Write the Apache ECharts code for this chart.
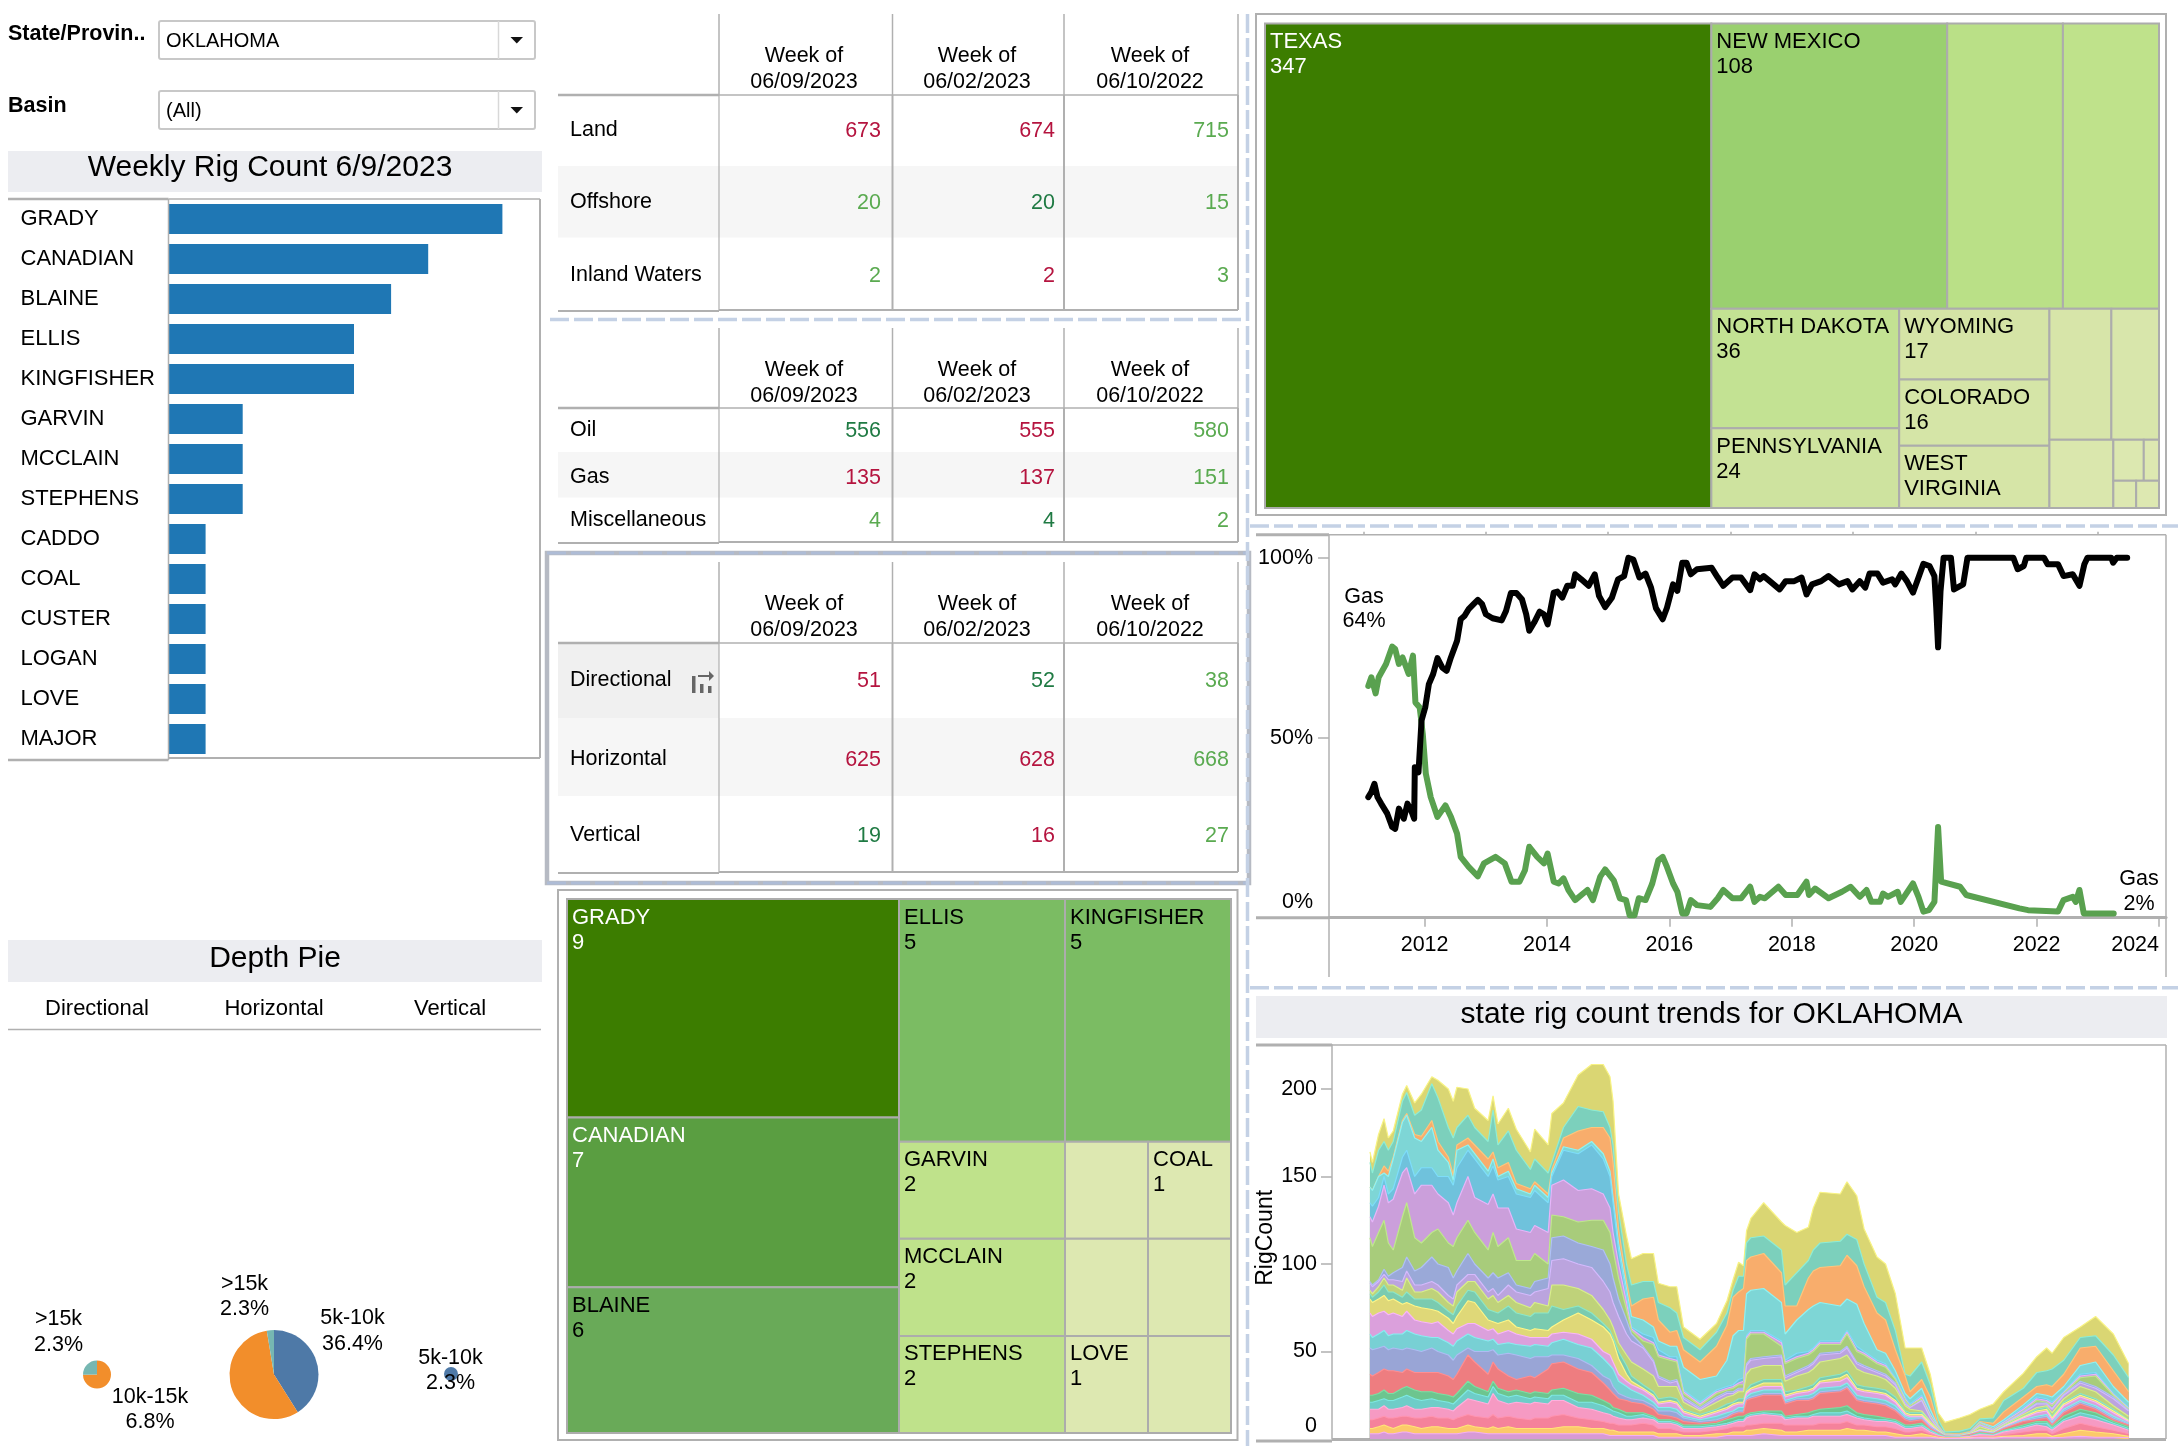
<!DOCTYPE html>
<html><head><meta charset="utf-8">
<style>html,body{margin:0;padding:0;background:#fff}#c{width:2178px;height:1446px}</style>
<script src="https://cdn.jsdelivr.net/npm/echarts@6/dist/echarts.min.js"></script>
</head><body><div id="c"></div>
<script>
// ---------- DATA ----------
const barCounties = ['GRADY','CANADIAN','BLAINE','ELLIS','KINGFISHER','GARVIN','MCCLAIN','STEPHENS','CADDO','COAL','CUSTER','LOGAN','LOVE','MAJOR'];
const barCounts = [9,7,6,5,5,2,2,2,1,1,1,1,1,1];

const pieDirectional = [['10k-15k',6.8],['>15k',2.3]];
const pieHorizontal = [['5k-10k',36.4],['10k-15k',50],['>15k',2.3]];
const pieVertical = [['5k-10k',2.3]];
const pieTitles = ['Directional','Horizontal','Vertical'];

const weekHeaders = ['06/09/2023','06/02/2023','06/10/2022'];
const locationRows = ['Land','Offshore','Inland Waters'];
const locationValues = [[673,674,715],[20,20,15],[2,2,3]];
const locationTone = ['rrl','ldl','lrl'];
const productRows = ['Oil','Gas','Miscellaneous'];
const productValues = [[556,555,580],[135,137,151],[4,4,2]];
const productTone = ['drl','rrl','ldl'];
const trajectoryRows = ['Directional','Horizontal','Vertical'];
const trajectoryValues = [[51,52,38],[625,628,668],[19,16,27]];
const trajectoryTone = ['rdl','rrl','drl'];

const oilShare = [[2011.08,33.5],[2011.13,34.9],[2011.18,37.2],[2011.23,33.5],[2011.29,31.7],[2011.39,28.9],[2011.47,25.2],[2011.52,24.7],[2011.58,30.3],[2011.66,27.5],[2011.72,31.7],[2011.78,29.8],[2011.83,27.5],[2011.84,41.8],[2011.90,40.4],[2011.95,54.8],[2012.01,58.4],[2012.07,64.9],[2012.14,67.7],[2012.21,72.1],[2012.29,69.5],[2012.36,68.6],[2012.43,72.3],[2012.53,76.9],[2012.59,82.9],[2012.65,83.8],[2012.72,85.7],[2012.80,87.1],[2012.87,88.3],[2012.94,87.1],[2013.00,84.3],[2013.11,83.2],[2013.26,82.6],[2013.33,85.2],[2013.41,90.2],[2013.50,90.2],[2013.59,88.5],[2013.66,84.3],[2013.71,79.7],[2013.79,82.0],[2013.88,85.0],[2013.95,84.3],[2014.01,81.5],[2014.11,90.3],[2014.17,90.6],[2014.25,88.9],[2014.33,92.2],[2014.42,92.2],[2014.46,95.4],[2014.56,94.0],[2014.68,92.2],[2014.78,95.4],[2014.85,89.4],[2014.95,86.3],[2015.06,88.9],[2015.16,94.0],[2015.26,94.9],[2015.33,100],[2015.41,99.5],[2015.51,94.5],[2015.61,95.6],[2015.70,91.7],[2015.78,86.0],[2015.89,82.9],[2015.96,86.1],[2016.06,92.6],[2016.13,90.8],[2016.21,98.6],[2016.28,98.6],[2016.35,95.4],[2016.45,96.8],[2016.69,97.2],[2016.79,94.5],[2016.88,92.2],[2017.03,94.5],[2017.17,94.5],[2017.32,91.0],[2017.39,95.4],[2017.48,94.0],[2017.54,94.9],[2017.64,93.5],[2017.80,91.2],[2017.90,93.5],[2018.04,93.5],[2018.16,94.5],[2018.24,89.8],[2018.33,92.6],[2018.48,93.5],[2018.60,94.9],[2018.77,92.6],[2018.91,93.5],[2018.99,91.2],[2019.11,93.5],[2019.20,91.7],[2019.27,95.6],[2019.40,95.6],[2019.49,93.1],[2019.64,94.0],[2019.69,92.6],[2019.79,95.6],[2019.88,93.5],[2019.98,90.3],[2020.07,94.5],[2020.15,98.3],[2020.25,97.7],[2020.33,94.9],[2020.36,86.1],[2020.39,75.1],[2020.43,90.8],[2020.48,100],[2020.60,100],[2020.65,91.2],[2020.80,92.6],[2020.87,100],[2021.62,100],[2021.69,96.8],[2021.79,97.7],[2021.83,100],[2022.12,100],[2022.18,98.2],[2022.35,98.2],[2022.44,94.9],[2022.59,95.4],[2022.70,92.2],[2022.78,98.2],[2022.83,100],[2023.22,100],[2023.25,98.6],[2023.31,100],[2023.48,100]];
const gasShare = [[2011.08,64.4],[2011.13,66.8],[2011.20,62.3],[2011.25,66.8],[2011.37,70.5],[2011.47,75.3],[2011.52,74.6],[2011.58,70.5],[2011.64,72.3],[2011.74,67.7],[2011.81,72.8],[2011.85,59.8],[2011.92,58.4],[2011.97,51.1],[2012.02,40.0],[2012.10,33.5],[2012.21,28.0],[2012.34,31.2],[2012.43,28.0],[2012.53,23.4],[2012.59,16.9],[2012.72,14.1],[2012.87,11.5],[2012.97,15.1],[2013.16,16.9],[2013.31,15.1],[2013.42,10.0],[2013.55,10.0],[2013.64,13.2],[2013.71,19.7],[2013.84,16.9],[2013.95,15.1],[2014.01,17.8],[2014.11,10.0],[2014.19,9.5],[2014.27,10.9],[2014.35,7.7],[2014.46,4.9],[2014.66,7.7],[2014.75,4.9],[2014.87,11.4],[2014.95,13.4],[2015.09,10.4],[2015.19,5.4],[2015.29,4.9],[2015.35,0.7],[2015.43,0.7],[2015.50,5.4],[2015.61,4.9],[2015.72,9.5],[2015.82,16.0],[2015.89,16.9],[2015.96,14.1],[2016.06,9.5],[2016.13,7.2],[2016.21,1.2],[2016.28,1.2],[2016.35,4.9],[2016.45,3.5],[2016.67,3.0],[2016.79,5.4],[2016.88,7.7],[2017.03,5.4],[2017.17,5.4],[2017.32,8.6],[2017.39,4.4],[2017.48,5.8],[2017.56,5.4],[2017.78,8.6],[2017.90,6.3],[2018.09,6.3],[2018.24,10.0],[2018.28,6.3],[2018.38,8.1],[2018.60,5.4],[2018.82,7.2],[2018.96,8.6],[2019.11,5.8],[2019.22,7.7],[2019.30,4.4],[2019.44,4.4],[2019.49,6.7],[2019.57,5.8],[2019.73,7.2],[2019.78,4.4],[2019.98,9.5],[2020.07,5.8],[2020.15,1.7],[2020.24,2.1],[2020.33,4.4],[2020.39,25.2],[2020.44,10.0],[2020.75,8.6],[2020.85,6.3],[2021.72,2.6],[2021.86,2.1],[2022.35,1.7],[2022.44,4.9],[2022.59,5.8],[2022.64,4.4],[2022.70,7.7],[2022.77,1.2],[2023.26,1.2]];
const shareYearLabels = [2012,2014,2016,2018,2020,2022,2024];
const shareOddYears = [2011,2013,2015,2017,2019,2021,2023];

// Running rig-count tops of the stacked layers, one row per week.
const stackWeeks = [2011.11,2011.15,2011.25,2011.34,2011.41,2011.49,2011.64,2011.71,2011.84,2011.95,2012.12,2012.22,2012.39,2012.47,2012.53,2012.71,2012.82,2013.04,2013.12,2013.20,2013.37,2013.50,2013.73,2013.80,2014.02,2014.08,2014.27,2014.51,2014.73,2014.92,2015.03,2015.08,2015.17,2015.30,2015.38,2015.57,2015.74,2015.82,2016.01,2016.12,2016.23,2016.50,2016.77,2016.94,2017.04,2017.13,2017.21,2017.26,2017.33,2017.54,2017.83,2017.89,2018.08,2018.27,2018.35,2018.46,2018.79,2018.90,2019.06,2019.18,2019.39,2019.53,2019.69,2019.85,2019.93,2020.12,2020.26,2020.39,2020.50,2020.74,2020.91,2021.07,2021.29,2021.46,2021.78,2022.00,2022.16,2022.25,2022.44,2022.71,2022.96,2023.25,2023.50];
const stackTops = [
[3,6,11,17,21,25,37,52,60,72,80,83,85,89,90,115,127,135,144,144,158,164],
[3,6,11,17,21,25,36,51,58,70,78,81,83,87,88,110,124,133,142,142,152,158],
[3,7,12,17,22,26,38,52,60,72,80,84,87,90,91,118,133,138,150,150,165,174],
[4,8,13,19,23,28,40,53,62,73,82,88,92,94,97,125,145,150,152,156,170,183],
[3,7,12,17,22,26,39,51,59,71,79,84,88,91,93,112,135,140,150,153,165,172],
[3,6,12,17,22,26,39,52,60,72,80,84,88,91,95,108,137,143,160,161,170,176],
[4,8,13,18,24,29,38,51,60,70,77,81,85,90,98,127,152,161,181,182,193,197],
[4,8,13,19,25,30,40,52,62,73,78,84,92,96,104,135,155,165,185,186,198,202],
[3,7,12,17,23,28,38,51,60,68,76,80,84,88,96,115,140,150,172,174,185,192],
[3,6,12,17,22,27,38,50,59,67,75,80,84,88,98,112,145,155,170,173,188,197],
[3,7,13,18,23,27,38,52,58,66,74,80,86,90,104,118,145,155,178,182,203,207],
[3,7,12,18,22,26,38,50,58,67,73,78,84,88,100,120,140,150,165,170,195,205],
[3,6,12,17,21,25,36,48,55,62,69,73,78,82,98,112,135,150,158,161,178,200],
[3,6,11,16,20,24,34,45,53,60,66,71,76,80,92,110,128,145,148,151,172,193],
[3,6,12,18,22,26,37,48,56,63,70,76,84,88,96,115,135,155,165,168,178,201],
[4,8,14,23,28,33,48,52,60,66,79,85,90,94,106,125,150,165,168,172,185,200],
[4,7,13,22,26,30,44,50,58,66,78,84,90,94,100,118,138,160,163,168,178,189],
[3,6,12,20,24,27,37,50,56,62,68,74,80,84,92,108,134,150,153,160,170,182],
[3,7,14,26,30,33,44,51,57,63,67,73,82,86,95,118,140,156,160,164,188,196],
[3,6,12,22,26,29,40,48,54,60,66,72,78,82,92,110,132,148,150,155,168,180],
[3,7,13,20,24,27,36,49,55,62,68,76,82,88,95,115,132,150,153,158,176,189],
[3,6,12,21,25,28,34,48,54,60,64,72,78,84,88,102,120,140,143,146,165,177],
[3,6,11,20,23,26,36,46,53,58,62,70,75,82,86,102,118,138,140,143,154,164],
[3,6,12,21,24,27,35,47,54,58,63,72,78,84,90,106,122,142,145,147,160,177],
[3,6,12,20,23,26,40,47,53,58,62,72,76,86,92,100,118,135,138,140,152,168],
[3,6,13,22,25,28,43,48,55,60,64,76,88,102,115,128,145,150,152,154,158,186],
[3,7,14,22,25,29,44,48,57,61,68,74,88,103,116,127,148,165,167,172,178,192],
[3,7,12,18,21,26,40,46,54,60,72,76,86,100,112,124,142,163,165,176,190,208],
[3,6,11,17,21,25,38,42,52,57,68,72,82,98,110,125,143,168,170,178,188,214],
[3,6,10,15,19,22,32,36,46,50,64,66,74,90,108,125,140,160,163,178,187,214],
[2,5,9,14,17,20,28,34,42,48,60,62,68,84,100,118,132,150,153,172,178,207],
[2,5,9,13,16,18,26,30,40,44,56,58,64,78,92,108,118,135,138,158,168,193],
[2,4,8,12,15,17,23,26,33,37,46,50,55,70,80,92,100,108,112,120,130,140],
[2,4,8,11,13,15,22,24,30,33,37,42,48,60,68,74,78,82,86,90,100,116],
[2,4,8,11,13,15,21,23,28,31,33,36,44,56,60,62,63,64,70,76,88,103],
[2,4,9,12,14,15,20,22,25,28,29,31,40,52,53,56,58,60,68,80,90,106],
[2,4,8,11,12,13,17,19,21,24,25,27,36,44,45,54,55,58,64,81,90,106],
[1,3,6,9,10,11,14,16,18,20,21,23,30,35,36,47,48,51,56,68,78,89],
[1,3,6,9,10,11,13,16,18,21,22,24,30,32,33,45,46,47,53,61,75,87],
[1,3,5,8,9,10,12,15,17,20,21,23,30,33,34,44,45,47,53,62,72,87],
[1,2,4,6,7,8,10,12,13,15,16,17,21,23,24,26,27,28,41,51,58,64],
[1,2,4,6,7,8,9,10,11,12,13,14,16,17,18,19,20,21,34,44,51,57],
[1,3,5,7,8,9,10,11,13,15,16,17,21,23,24,26,27,28,36,53,61,66],
[2,3,6,8,9,11,12,13,15,17,18,20,24,26,27,28,29,30,45,65,72,79],
[2,4,7,9,10,12,14,15,16,19,20,21,25,26,27,29,30,31,59,81,85,91],
[2,4,7,10,11,13,15,16,18,20,21,23,27,28,29,31,32,34,62,84,93,101],
[2,4,7,10,11,13,15,16,18,20,21,23,27,28,29,31,33,35,62,86,93,99],
[2,5,8,12,13,14,22,23,24,26,27,28,37,42,43,57,58,59,83,102,112,119],
[2,5,8,13,14,15,23,24,26,28,29,31,40,45,46,60,61,62,85,104,115,126],
[3,6,9,14,15,16,25,26,28,30,32,34,42,46,47,60,61,62,86,106,116,135],
[2,5,9,13,14,16,25,26,28,30,32,34,42,47,48,53,55,56,78,95,108,124],
[2,4,8,11,12,13,20,21,22,24,25,27,33,35,36,43,44,45,60,76,88,122],
[2,4,8,12,13,14,22,23,24,26,27,28,36,38,39,46,47,49,68,76,95,118],
[2,5,8,12,13,15,22,23,25,27,28,30,38,41,42,48,49,50,74,92,102,121],
[2,5,8,13,14,16,23,24,26,28,29,31,40,43,44,50,51,52,76,96,108,132],
[2,5,9,13,15,17,26,27,29,32,33,35,44,48,49,54,55,56,78,98,112,141],
[2,5,9,13,15,18,27,28,30,33,35,37,46,49,50,54,55,56,76,99,113,140],
[2,6,10,14,16,19,29,30,32,35,37,39,48,52,53,60,61,62,80,105,117,147],
[2,5,8,12,13,15,22,23,25,28,29,31,40,43,44,50,51,53,77,99,114,139],
[2,5,8,11,12,14,21,22,24,27,28,30,38,41,42,48,49,50,66,87,100,120],
[2,4,7,10,11,13,20,21,23,26,27,29,36,38,39,43,44,45,51,72,81,104],
[2,4,7,10,11,12,19,20,22,25,26,28,34,36,37,41,42,43,49,68,78,100],
[1,3,6,9,10,11,16,17,19,21,22,24,29,31,32,34,34,35,39,51,62,83],
[1,2,4,6,7,8,11,12,13,14,15,16,19,20,21,22,23,24,26,36,37,52],
[1,2,4,6,7,8,10,11,12,13,14,15,17,18,18,19,19,20,23,27,36,52],
[1,3,5,7,8,9,11,12,12,13,14,15,16,22,22,23,24,25,29,34,44,52],
[1,2,3,4,5,5,6,7,7,8,9,9,10,12,12,13,14,14,17,24,31,37],
[.5,1,1.5,2,2.5,3,3.5,4,4.2,4.5,4.8,5,5.5,5.8,6,6.2,6.4,6.6,7,8,11,15],
[.3,.5,.8,1,1.2,1.4,1.6,1.7,1.8,1.9,2,2.1,2.2,2.3,2.4,2.5,2.6,2.7,2.8,3,4,9.5],
[.4,.6,.8,1,1.1,1.2,1.4,1.5,1.6,1.7,1.8,1.9,2,2.1,2.1,2.2,2.2,2.2,2.3,3,4.5,12],
[.5,.8,1,1.5,1.6,1.8,2.5,2.6,2.7,2.8,2.9,3,3.2,3.3,3.4,3.5,3.6,3.7,3.8,4.2,6,14],
[.8,1,1.5,2.5,3,3.5,4,4.2,4.4,5,5.2,5.5,7,8,8.2,9,9.2,9.4,9.6,10,11.5,17],
[.5,1,1.5,2,2.2,2.5,3,3.2,3.4,3.6,3.8,4,4.5,5,5.2,5.5,5.7,6,7,9,12,20],
[1,1.5,2.5,4,4.5,5,6,6.2,6.4,7,7.2,7.5,8,8.5,8.7,9,9.5,10,11,15.5,22,27],
[1,2,4,6,7,8,10,10.5,11,12,12.5,13,14,15,15.5,16,17,18,19.5,24,29,37.5],
[1,3,5,8,9,10,11,12,13,15,16,17,18,20,20.5,22,23,24,26,30,38,47],
[1,3,5,7,9,10,12,13,14,16,17,18,19,20,20.5,21,22,23,25,31,39,52],
[.8,1.5,3,5,6,7,8,9,9.5,11,12,13,15,17,17.5,19,20,21,24,30,40,49],
[1,3,6,10,11,13,15,16,17,19,20,21,23,25,25.5,26,26.5,27,30,37,45,58],
[1.5,5,9,13,15,17,20,21,22,24,25,26,30,32,33,35,36,37,42,52,58,64],
[1,4,7,11,13,15,17,18,19,21,22,23,27,29,30,36,37,38,44,53,59,70],
[1,3,5,8,9,10,11,12,13,15,16,17,19,23,24,25,25.5,26,30,39,48,60],
[.8,1.5,3,5,6,7,8,8.5,9,10,10.5,11,13,16,16.5,17,17.5,18,21,27,35,43]
];
const stackColors = ['#d79ad6','#fcc96a','#f5829b','#f69ac3','#6ecdc8','#6dc58f','#ee7d80','#99a5d6','#78d0d4','#dba0dc','#dfd878','#7acbb0','#bfd27a','#bba4de','#9aa9d8','#a8cc7b','#cb9fdb','#6fc2dc','#7ed6d6','#f8ad6c','#7cd0bc','#dad673'];

const node = (name, value) => ({name, value});
const across = (...children) => ({dir:'h', children});
const down = (...children) => ({dir:'v', children});
const stateTree = across(node('TEXAS',347),
  down(across(node('NEW MEXICO',108),node('',53),node('',44)),
       across(down(node('NORTH DAKOTA',36),node('PENNSYLVANIA',24)),
              down(node('WYOMING',17),node('COLORADO',16),node('WEST VIRGINIA',15)),
              down(across(node('',13),node('',10)),
                   across(node('',7),down(across(node('',2),node('',1)),across(node('',1),node('',1))))))));
const countyTree = across(down(node('GRADY',9),node('CANADIAN',7),node('BLAINE',6)),
  down(across(node('ELLIS',5),node('KINGFISHER',5)),
       across(down(node('GARVIN',2),node('MCCLAIN',2),node('STEPHENS',2)),
              down(across(node('',1),node('COAL',1)),across(node('',1),node('',1)),across(node('LOVE',1),node('',1))))));
const treeRampStops = [[0,'#dde8b1'],[.05,'#d4e4a5'],[.1,'#c3e293'],[.125,'#bfe28b'],[.31,'#9ad06f'],[.5,'#7bbc63'],[.625,'#69aa58'],[.75,'#5a9e41'],[1,'#3c7d00']];

// ---------- HELPERS ----------
const FONT = '"Liberation Sans", Arial, sans-serif';
const GRAY = '#b0b0b0', DASH = '#c4d1e5';
const toneColor = {r:'#b5143f', d:'#1f7a43', l:'#5aaa50'};
const G = [];
const T = (x,y,text,size,o={}) => G.push({type:'text',x,y:y+2,silent:true,z:o.z||5,style:{text,fill:o.fill||'#000',font:`${o.weight||'normal'} ${size}px ${FONT}`,align:o.align||'left',verticalAlign:'middle',lineHeight:o.lh}});
const L = (x1,y1,x2,y2,stroke=GRAY,lineWidth=1.5,lineDash=null,z=3) => G.push({type:'line',silent:true,z,shape:{x1,y1,x2,y2},style:{stroke,lineWidth,lineDash}});
const R = (x,y,width,height,fill,stroke,lineWidth=1,z=1,r=0) => G.push({type:'rect',silent:true,z,shape:{x,y,width,height,r},style:{fill:fill||'transparent',stroke:stroke||null,lineWidth}});

function sumTree(n){return n.children?n.children.reduce((s,c)=>s+sumTree(c),0):n.value;}
function layoutTree(n,x0,y0,x1,y1,out){
  if(!n.children){out.push({name:n.name,value:[x0,y0,x1,y1,n.value]});return out;}
  const total=sumTree(n);let pos=n.dir==='h'?x0:y0;
  n.children.forEach(c=>{const f=sumTree(c)/total;
    if(n.dir==='h'){const e=pos+f*(x1-x0);layoutTree(c,pos,y0,e,y1,out);pos=e;}
    else{const e=pos+f*(y1-y0);layoutTree(c,x0,pos,x1,e,out);pos=e;}});
  return out;
}
function rampColor(t){
  for(let i=1;i<treeRampStops.length;i++){
    const [a,ca]=treeRampStops[i-1],[b,cb]=treeRampStops[i];
    if(t<=b){const k=(t-a)/(b-a),pa=echarts.color.parse(ca),pb=echarts.color.parse(cb);
      return `rgb(${[0,1,2].map(j=>Math.round(pa[j]+(pb[j]-pa[j])*k)).join(',')})`;}
  }
  return treeRampStops[treeRampStops.length-1][1];
}
function treeSeries(tree,xi,yi){
  const cells=layoutTree(tree,0,0,1,1,[]);
  const vals=cells.map(c=>c.value[4]),mn=Math.min(...vals),mx=Math.max(...vals);
  return {type:'custom',xAxisIndex:xi,yAxisIndex:yi,coordinateSystem:'cartesian2d',silent:true,clip:false,
    encode:{x:[0,2],y:[1,3]},data:cells,
    renderItem(p,api){
      const a=api.coord([api.value(0),api.value(1)]),b=api.coord([api.value(2),api.value(3)]);
      const t=(api.value(4)-mn)/(mx-mn),cell=cells[p.dataIndex];
      const w=b[0]-a[0],h=b[1]-a[1];
      const kids=[{type:'rect',shape:{x:a[0],y:a[1],width:w,height:h},style:{fill:rampColor(t),stroke:'#acacac',lineWidth:2}}];
      if(cell.name)kids.push({type:'text',style:{x:a[0]+5,y:a[1]+6,text:cell.name+'\n'+api.value(4),fill:t>=.75?'#fff':'#000',font:`22px ${FONT}`,lineHeight:25,verticalAlign:'top',width:w-8,height:h-7,overflow:'break',lineOverflow:'truncate'}});
      return {type:'group',children:kids};
    }};
}

// ---------- CHROME ----------
// filter controls
[['State/Provin..','OKLAHOMA',21,59,32],['Basin','(All)',91,129,104.5]].forEach(([lab,val,y0,y1,ly])=>{
  T(8,ly,lab,21.5,{weight:'bold'});
  R(159,y0,376,y1-y0,'#fff','#c8c8c8',2,1,2);
  L(498.5,y0,498.5,y1,'#d8d8d8',1.5);
  T(166,(y0+y1)/2-.5,val,20);
  G.push({type:'polygon',silent:true,z:4,shape:{points:[[510.5,(y0+y1)/2-3],[523,(y0+y1)/2-3],[516.8,(y0+y1)/2+3.5]]},style:{fill:'#111'}});
});
// title bands
R(8,151,534,41,'#ecedf1');T(270,166,'Weekly Rig Count 6/9/2023',30,{align:'center'});
R(8,940,534,42,'#ecedf1');T(275,957,'Depth Pie',30,{align:'center'});
R(1256,996,911,42,'#ecedf1');T(1711.5,1013,'state rig count trends for OKLAHOMA',30,{align:'center'});
// bar frame
L(8,199,168.5,199,GRAY,2.5);L(168.5,199,540,199,GRAY,1.5);L(168.5,199,168.5,760,GRAY,1.5);L(540,199,540,758,GRAY,2);L(8,760,168.5,760,GRAY,2.5);L(168.5,758,540,758,GRAY,2);
// pie header
pieTitles.forEach((t,i)=>T([97,274,450][i],1006.5,t,22,{align:'center'}));
L(8,1029.5,541,1029.5,GRAY,1.5);

// tables
function table(top,hb,rowEdges,headY,rowY,rows,vals,tone,selected){
  const bottom=rowEdges[3];
  if(selected)R(558,rowEdges[0],161,rowEdges[1]-rowEdges[0],'#f0f0f0');
  R(558,rowEdges[1],680,rowEdges[2]-rowEdges[1],'#f6f6f6');
  [719,892.5,1064,1238].forEach((x,i)=>{L(x,top,x,hb,GRAY,1.5);L(x,hb,x,bottom,GRAY,i===0?1.2:2);});
  L(558,hb,719,hb,GRAY,2.5);L(719,hb,1238,hb,GRAY,1.5);L(558,bottom+1,719,bottom+1,GRAY,2);L(719,bottom,1238,bottom,GRAY,2);
  [804,977,1150].forEach((x,i)=>{T(x,headY[0],'Week of',21.5,{align:'center'});T(x,headY[1],weekHeaders[i],21.5,{align:'center'});});
  rows.forEach((r,i)=>{T(570,rowY[i],r,21.5);
    [881,1055,1229].forEach((x,j)=>T(x,rowY[i]+1,String(vals[i][j]),21.5,{align:'right',fill:toneColor[tone[i][j]]}));});
}
table(14,95,[95,166,237.5,310],[54,80],[128.5,200.5,273],locationRows,locationValues,locationTone);
table(328,408,[408,452,497.5,542],[368.5,394],[428.5,475,518.5],productRows,productValues,productTone);
table(562,643,[643,718,796,872],[602,628],[678,757,833],trajectoryRows,trajectoryValues,trajectoryTone,true);
R(547,553,702,330,null,'#b6bac3',4.5,2);
// swap icon
R(692,676,3.5,17,'#666',null,0,6);R(700,684,3.5,9,'#666',null,0,6);R(708,686,3.5,7,'#666',null,0,6);
L(698,676,711,676,'#666',2,null,6);
G.push({type:'polygon',silent:true,z:6,shape:{points:[[709,671],[714,676],[709,681]]},style:{fill:'#666'}});

// treemap outer frames
R(1256,14,910,501,null,GRAY,2,1);
R(558,890,679.5,550,null,GRAY,2,1);

// line-chart frame
L(1256,534.7,1329,534.7,GRAY,3);L(1329,534.7,2166,534.7,GRAY,1.5);L(1329,534.7,1329,977,GRAY,1.5);L(2166,534.7,2166,977,GRAY,1.5);L(1256,917.7,1329,917.7,GRAY,3);
T(1364,595,'Gas',21.5,{align:'center'});T(1364,619.5,'64%',21.5,{align:'center'});
T(2139,877,'Gas',21.5,{align:'center'});T(2139,902,'2%',21.5,{align:'center'});

// area frame
L(1256,1045,1332,1045,GRAY,3);L(1332,1045,2166,1045,GRAY,1.5);L(2166,1045,2166,1439,GRAY,1.5);L(1256,1441,1332,1441,GRAY,3);L(1332,1439.5,2166,1439.5,GRAY,3,null,8);

// dashed separators
L(550,319.5,1245,319.5,DASH,3.5,[19,5]);
L(547,553,1249,553,'#aebcd6',3,[19,5],6);L(547,883,1249,883,'#aebcd6',3,[19,5],6);
L(1247.5,14,1247.5,1446,DASH,3.5,[19,5],6);
L(1250,526,2178,526,DASH,3.5,[19,5]);L(1250,987.7,2178,987.7,DASH,3.5,[19,5]);

// ---------- SERIES ----------
const pieColor = {'5k-10k':'#4e79a7','10k-15k':'#f28e2b','>15k':'#76b7b2'};
function pie(rows,center,radius,labelAt){
  return {type:'pie',center,radius,startAngle:90,silent:true,avoidLabelOverlap:false,
    data:rows.map(([name,value])=>({name,value,itemStyle:{color:pieColor[name]},
      label:{show:!!labelAt[name]}})),
    label:{position:'outside',formatter:'{b}\n{c}%',fontFamily:FONT,fontSize:21.5,lineHeight:25.5,color:'#000',align:'center'},
    labelLine:{show:false},
    labelLayout:p=>{const at=labelAt[rows[p.dataIndex][0]]||[0,0];return {x:at[0],y:at[1],align:'center',verticalAlign:'middle'};}};
}
// Layers are painted from the highest running total down, so each visible band is the gap between two totals.
const stackSeries = stackColors.map((color,li)=>({
  type:'line',xAxisIndex:3,yAxisIndex:2,symbol:'none',silent:true,z:30-li,
  data:stackWeeks.map((y,i)=>[y,stackTops[i][li]]),
  lineStyle:{width:1.2,color:echarts.color.lift(color,-.14)},areaStyle:{color,opacity:1},itemStyle:{color}})).reverse();

const axisFont={fontFamily:FONT,fontSize:21.5,color:'#000'};
const option={
  animation:false,backgroundColor:'#fff',
  graphic:{elements:G},
  grid:[
    {left:168.5,top:199,width:371,height:560},
    {left:1329,top:534.7,width:837,height:383},
    {left:1332,top:1044.7,width:834,height:394.3},
    {left:1265,top:23.4,width:894,height:484.6},
    {left:567,top:899,width:664,height:534}
  ],
  xAxis:[
    {gridIndex:0,type:'value',min:0,max:10,show:false},
    {gridIndex:1,type:'value',min:2010.438,max:2024.114,splitLine:{show:false},
      axisLine:{show:true,lineStyle:{color:GRAY,width:3}},axisTick:{show:true,length:9,customValues:shareYearLabels,lineStyle:{color:GRAY,width:1.5}},
      axisLabel:{...axisFont,margin:16,formatter:v=>String(v),customValues:shareYearLabels,alignMaxLabel:'right',showMinLabel:true,showMaxLabel:true}},
    {gridIndex:1,type:'value',min:2010.438,max:2024.114,splitLine:{show:false},
      axisLine:{show:false},axisTick:{show:true,length:3,customValues:shareOddYears,lineStyle:{color:GRAY,width:1.5}},axisLabel:{show:false}},
    {gridIndex:2,type:'value',min:2010.49,max:2024.11,show:false},
    {gridIndex:3,type:'value',min:0,max:1,show:false},
    {gridIndex:4,type:'value',min:0,max:1,show:false}
  ],
  yAxis:[
    {gridIndex:0,type:'category',inverse:true,data:barCounties,
      axisLine:{show:false},axisTick:{show:false},
      axisLabel:{...axisFont,fontSize:22,align:'left',margin:148,padding:[0,0,8,0]}},
    {gridIndex:1,type:'value',min:0,max:106.4,splitLine:{show:false},
      axisLine:{show:false},axisTick:{show:true,length:11,customValues:[50,100],lineStyle:{color:GRAY,width:1.5}},
      axisLabel:{...axisFont,margin:16,padding:[0,0,5,0],formatter:v=>v+'%',customValues:[0,50,100],verticalAlignMinLabel:'bottom'}},
    {gridIndex:2,type:'value',min:0,max:225.3,splitLine:{show:false},
      name:'RigCount',nameLocation:'middle',nameGap:51,nameRotate:90,nameTextStyle:{fontFamily:FONT,fontSize:23,color:'#000',padding:[0,0,0,8]},
      axisLine:{show:true,lineStyle:{color:GRAY,width:1.5}},axisTick:{show:true,length:11,customValues:[50,100,150,200],lineStyle:{color:GRAY,width:1.5}},
      axisLabel:{...axisFont,margin:15,padding:[0,0,2,0],customValues:[0,50,100,150,200],verticalAlignMinLabel:'bottom'}},
    {gridIndex:3,type:'value',min:0,max:1,inverse:true,show:false},
    {gridIndex:4,type:'value',min:0,max:1,inverse:true,show:false}
  ],
  series:[
    {type:'bar',xAxisIndex:0,yAxisIndex:0,data:barCounts,barWidth:30,silent:true,itemStyle:{color:'#1f77b4'}},
    pie(pieDirectional,[97,1374.6],[0,14],{'>15k':[58.5,1332],'10k-15k':[150,1409.5]}),
    pie(pieHorizontal,[274,1374.6],[0,44.5],{'>15k':[244.5,1296.5],'5k-10k':[352.5,1331]}),
    pie(pieVertical,[451,1374],[0,7],{'5k-10k':[450.5,1370.5]}),
    {type:'line',xAxisIndex:1,yAxisIndex:1,data:gasShare,symbol:'none',silent:true,z:3,lineStyle:{color:'#59a14f',width:6,cap:'round',join:'round'}},
    {type:'line',xAxisIndex:1,yAxisIndex:1,data:oilShare,symbol:'none',silent:true,z:4,lineStyle:{color:'#000',width:6,cap:'round',join:'round'}},
    ...stackSeries,
    treeSeries(stateTree,4,3),
    treeSeries(countyTree,5,4)
  ]
};
const chart=echarts.init(document.getElementById('c'),null,{width:2178,height:1446,renderer:'canvas'});
chart.setOption(option);
</script></body></html>
